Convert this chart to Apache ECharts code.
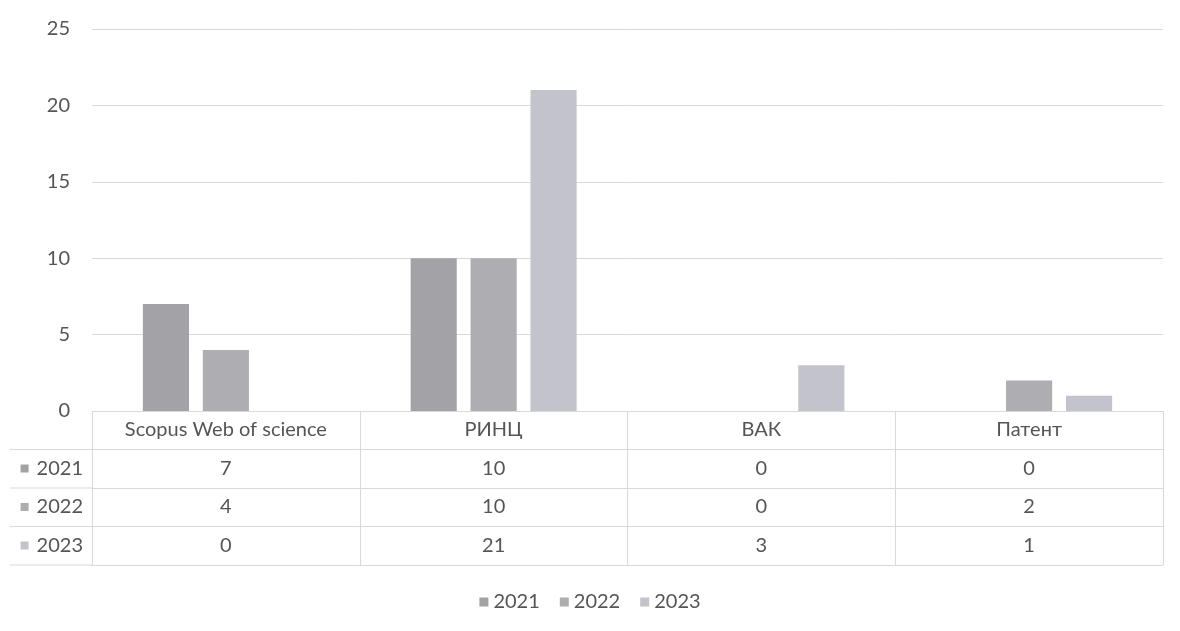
<!DOCTYPE html>
<html>
<head>
<meta charset="utf-8">
<script src="https://cdn.jsdelivr.net/npm/echarts@6/dist/echarts.min.js"></script>
<style>html,body{margin:0;padding:0;background:#fff}#c{width:1180px;height:631px}</style>
</head>
<body>
<div id="c"></div>
<script>
const categories = ['Scopus Web of science', 'РИНЦ', 'ВАК', 'Патент'];
const years = ['2021', '2022', '2023'];
const s2021 = [7, 10, 0, 0];
const s2022 = [4, 10, 0, 2];
const s2023 = [0, 21, 3, 1];
const yTicks = [0, 5, 10, 15, 20, 25];

const seriesValues = [s2021, s2022, s2023];
const colors = ['#a2a2a7', '#adadb2', '#c3c3cb'];
const FONT = 'Lato';
const TXT = '#555555';
const LINE = '#d9d9d9';
const FS = 20;

const gridLeft = 92, gridRight = 17, gridTop = 29, gridBottom = 220;
const rowH = 38.5;

const chart = echarts.init(document.getElementById('c'));

const xAxes = [{
  type: 'category',
  data: categories,
  position: 'bottom',
  axisLine: { show: true, lineStyle: { color: LINE, width: 1 } },
  axisTick: { show: true, length: rowH * 4, lineStyle: { color: LINE } },
  axisLabel: { color: TXT, fontFamily: FONT, fontSize: FS, margin: 9 }
}];
years.forEach((y, k) => {
  xAxes.push({
    type: 'category',
    data: categories,
    position: 'bottom',
    offset: rowH * (k + 1),
    axisLine: { show: true, lineStyle: { color: LINE, width: 1 } },
    axisTick: { show: false },
    axisLabel: {
      color: TXT, fontFamily: FONT, fontSize: FS, margin: 9,
      formatter: (v, i) => String(seriesValues[k][i])
    },
    name: '{sq|}{t|' + y + '}',
    nameLocation: 'start',
    nameGap: 9,
    nameTextStyle: {
      verticalAlign: 'top',
      padding: [9, 0, 0, 0],
      rich: {
        sq: { width: 8, height: 8, backgroundColor: colors[k], padding: 0 },
        t: { color: TXT, fontFamily: FONT, fontSize: FS, padding: [0, 0, 0, 8] }
      }
    }
  });
});
xAxes.push({
  type: 'category',
  data: categories,
  position: 'bottom',
  offset: rowH * 4,
  axisLine: { show: true, lineStyle: { color: LINE, width: 1 } },
  axisTick: { show: false },
  axisLabel: { show: false }
});

const rowLines = [];
for (let r = 1; r <= 4; r++) {
  const y = 631 - gridBottom + rowH * r;
  rowLines.push({
    type: 'line',
    shape: { x1: 10, y1: y, x2: gridLeft, y2: y },
    style: { stroke: LINE, lineWidth: 1 }
  });
}

chart.setOption({
  backgroundColor: '#ffffff',
  animation: false,
  textStyle: { fontFamily: FONT },
  grid: { left: gridLeft, right: gridRight, top: gridTop, bottom: gridBottom, containLabel: false },
  legend: {
    data: years,
    bottom: 14,
    left: 'center',
    icon: 'rect',
    itemWidth: 9,
    itemHeight: 9,
    itemGap: 20,
    textStyle: { color: TXT, fontFamily: FONT, fontSize: FS, padding: [0, 0, 0, 0] }
  },
  xAxis: xAxes,
  yAxis: {
    type: 'value',
    min: yTicks[0],
    max: yTicks[yTicks.length - 1],
    interval: 5,
    axisLine: { show: false },
    axisTick: { show: false },
    splitLine: { lineStyle: { color: LINE, width: 1 } },
    axisLabel: { color: TXT, fontFamily: FONT, fontSize: FS, margin: 22 }
  },
  series: years.map((y, k) => ({
    name: y,
    type: 'bar',
    data: seriesValues[k],
    xAxisIndex: 0,
    barGap: '30%',
    barCategoryGap: '38%',
    itemStyle: { color: colors[k] }
  })),
  graphic: rowLines
});
</script>
</body>
</html>
